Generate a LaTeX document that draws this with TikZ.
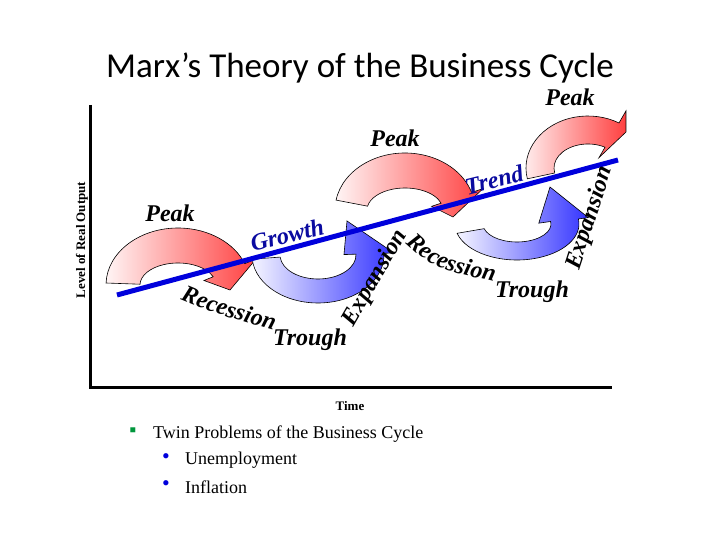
\documentclass[tikz,border=0pt]{standalone}
\usepackage{fontspec}
\setmainfont{Liberation Serif}
\newfontfamily\titlefont{Carlito}
\usetikzlibrary{decorations.text}
\definecolor{navy}{RGB}{10,10,160}
\definecolor{trendblue}{RGB}{0,0,220}
\definecolor{bgreen}{RGB}{0,150,60}
\tikzset{
  cyc/.style={draw=black, line width=0.6pt, line join=miter},
  lbl/.style={font=\fontsize{24}{26}\selectfont\bfseries\itshape, inner sep=0pt},
  blu/.style={font=\fontsize{24}{26}\selectfont\bfseries\itshape, text=navy, inner sep=0pt},
  body/.style={font=\fontsize{18}{20}\selectfont, anchor=west, inner sep=0pt}
}
\begin{document}
\begin{tikzpicture}[x=1pt,y=1pt]
\useasboundingbox (0,0) rectangle (720,540);
\node[font=\titlefont\fontsize{35}{37}\selectfont] (title) at (360,472) {Marx’s Theory of the Business Cycle};
% axes
\coordinate (o) at (90,152);
\coordinate (ytop) at (90,435);
\coordinate (xend) at (612,152);
\draw[line width=3pt] (ytop) -- (o) -- (xend);
\node[rotate=90, font=\fontsize{13}{14}\selectfont\bfseries] (ylab) at (82,300) {Level of Real Output};
\node[font=\fontsize{13}{14}\selectfont\bfseries] (time) at (350,134) {Time};
% red arrow 1
\begin{scope}[shift={(178,255)}]
\path[cyc, left color=red!4, right color=red!75] (178:72 and 57) arc[start angle=178,end angle=22,x radius=72,y radius=57] -- (22:84 and 69) -- (52,-5) -- (22:28 and 12) -- (22:38 and 22) arc[start angle=22,end angle=178,x radius=38,y radius=22] -- cycle;
\end{scope}
% red arrow 2
\begin{scope}[shift={(405,330)}]
\path[cyc, left color=red!4, right color=red!75] (170:70 and 57) arc[start angle=170,end angle=18,x radius=70,y radius=57] -- (18:82 and 69) -- (48,-7) -- (18:28 and 12) -- (18:38 and 22) arc[start angle=18,end angle=170,x radius=38,y radius=22] -- cycle;
\end{scope}
% red arrow 3
\begin{scope}[shift={(588,372)}]
\path[cyc, left color=red!4, right color=red!75] (192:62 and 52) arc[start angle=192,end angle=60,x radius=62,y radius=52] -- (60:76 and 66) -- (38,36) -- (60:22 and 12) -- (60:34 and 24) arc[start angle=60,end angle=192,x radius=34,y radius=24] -- cycle;
\end{scope}
% blue arrow 1
\begin{scope}[shift={(318,285)}]
\path[cyc, left color=blue!4, right color=blue!80] (185:66 and 48) arc[start angle=185,end angle=362,x radius=66,y radius=48] -- (362:76 and 58) -- (29,34) -- (362:26 and 12) -- (362:38 and 24) arc[start angle=362,end angle=185,x radius=38,y radius=24] -- cycle;
\end{scope}
% blue arrow 2
\begin{scope}[shift={(517,316)}]
\path[cyc, left color=blue!4, right color=blue!80] (195:62 and 36) arc[start angle=195,end angle=368,x radius=62,y radius=36] -- (368:72 and 46) -- (33,37) -- (368:22 and 6) -- (368:34 and 18) arc[start angle=368,end angle=195,x radius=34,y radius=18] -- cycle;
\end{scope}
% trend line
\coordinate (t0) at (117,245);
\coordinate (t1) at (618,380);
\draw[trendblue, line width=5pt] (t0) -- (t1);
% labels
\node[lbl] (peak1) at (170,327) {Peak};
\node[lbl] (peak2) at (395,402) {Peak};
\node[lbl] (peak3) at (570,443) {Peak};
\node[lbl] (trough1) at (310,200) {Trough};
\node[lbl] (trough2) at (532,248) {Trough};
\node[blu, rotate=14] (growth) at (287,305) {Growth};
\node[blu, rotate=14] (trend) at (494,360) {Trend};
\node[lbl, rotate=60] (exp1) at (375,262) {Expansion};
\node[lbl, rotate=72] (exp2) at (590,322) {Expansion};
\coordinate (r1a) at (172,244);
\coordinate (r1b) at (282,207);
\path[decorate, decoration={text along path, text align=center, text format delimiters={|}{|}, text={|\fontsize{24}{26}\selectfont\bfseries\itshape|Recession}}] (r1a) .. controls (210,228) .. (r1b);
\coordinate (r2a) at (398,304);
\coordinate (r2b) at (504,256);
\path[decorate, decoration={text along path, text align=center, text format delimiters={|}{|}, text={|\fontsize{24}{26}\selectfont\bfseries\itshape|Recession}}] (r2a) .. controls (432,272) .. (r2b);
% bullets
\node[text=bgreen, font=\fontsize{20}{20}\selectfont, inner sep=0pt] (b0) at (133,108) {\symbol{"25AA}};
\node[body] (l0) at (153,106) {Twin Problems of the Business Cycle};
\node[text=trendblue, font=\fontsize{22}{22}\selectfont, inner sep=0pt] (b1) at (166,81) {•};
\node[body] (l1) at (185,80) {Unemployment};
\node[text=trendblue, font=\fontsize{22}{22}\selectfont, inner sep=0pt] (b2) at (166,54) {•};
\node[body] (l2) at (185,53) {Inflation};
\end{tikzpicture}
\end{document}
